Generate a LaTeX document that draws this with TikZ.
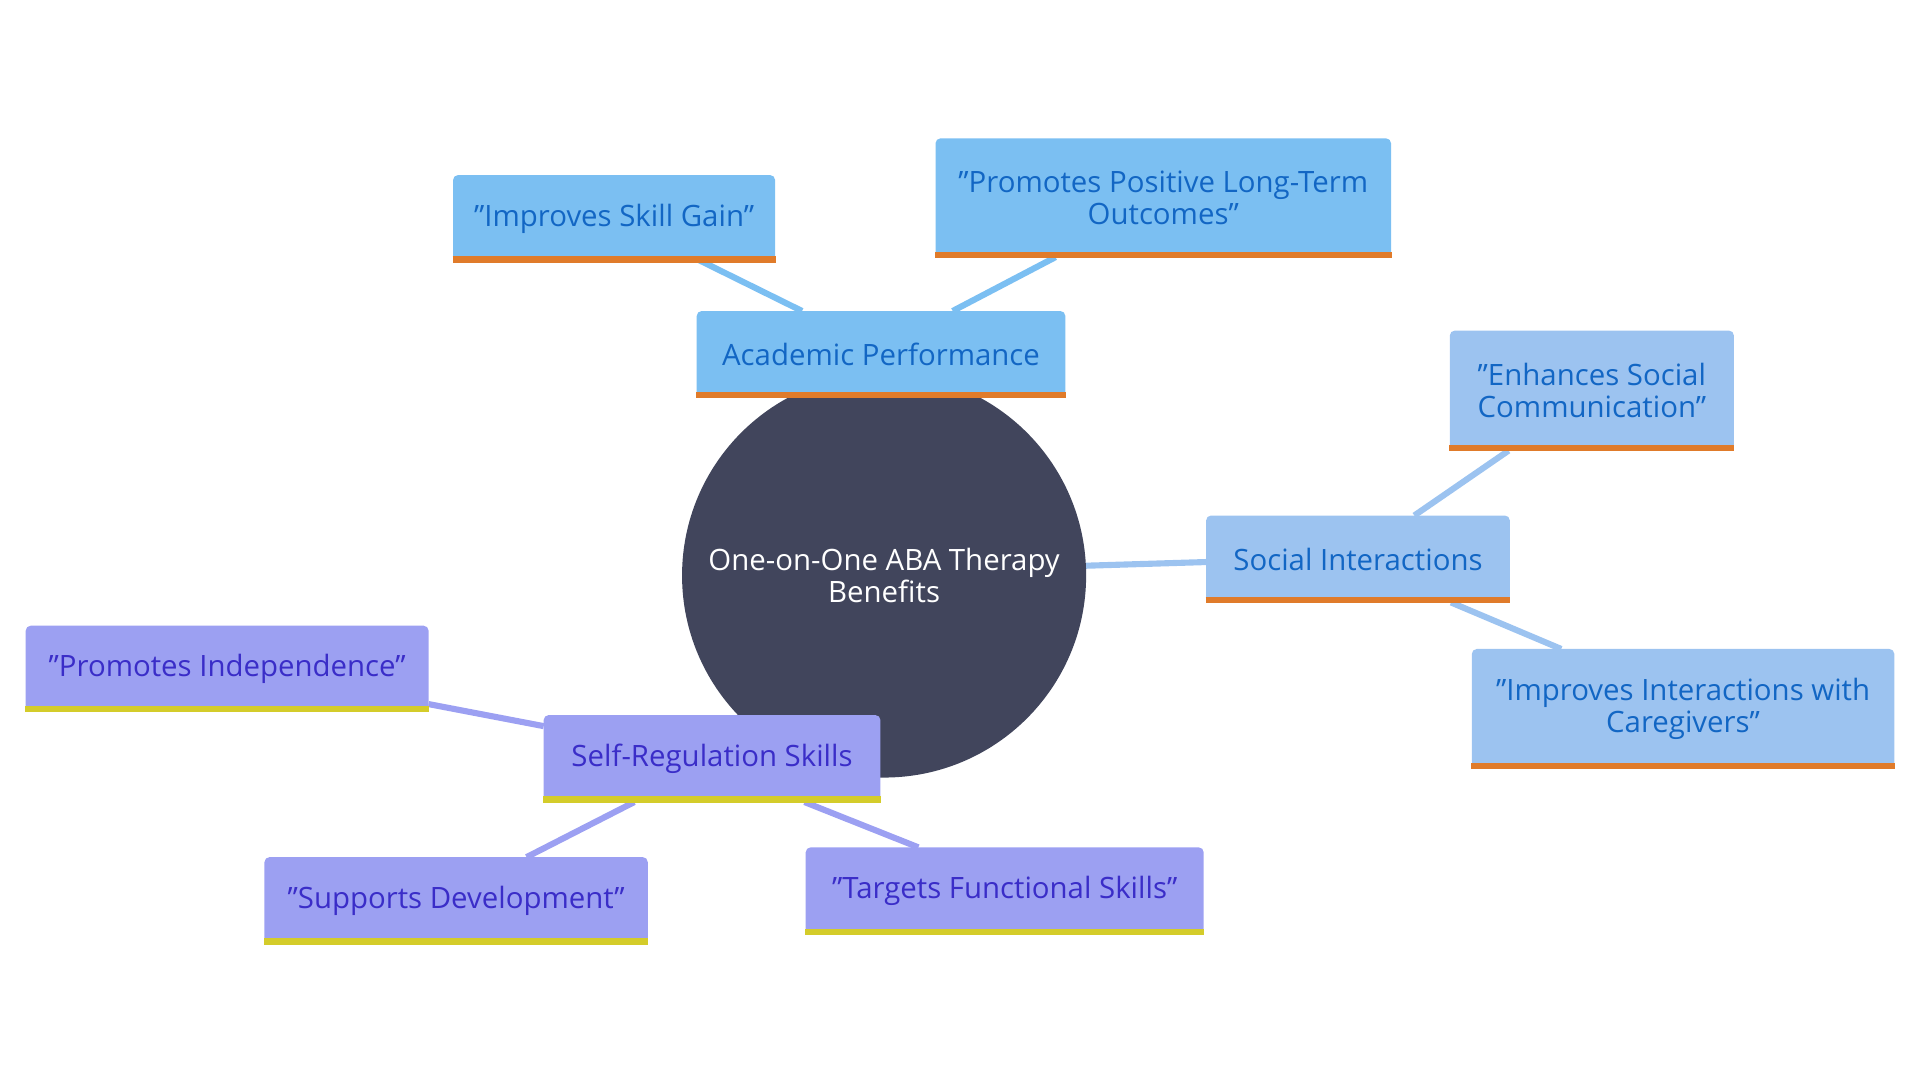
\documentclass[tikz,border=0pt]{standalone}
\usepackage{fontspec}
\setmainfont{Open Sans}
\begin{document}
\begin{tikzpicture}[x=0.5pt,y=-0.5pt,
 every node/.style={font=\fontsize{12}{13}\selectfont},
 blue/.style={rectangle,rounded corners=2pt,fill=cb,text=tb,align=center,inner sep=0pt},
 purp/.style={rectangle,rounded corners=2pt,fill=cp,text=tp,align=center,inner sep=0pt},
 eb/.style={line width=2.5pt,draw=cb},
 ep/.style={line width=2.5pt,draw=cp}]
\definecolor{cb}{HTML}{7BBFF2}
\definecolor{cb2}{HTML}{9CC3F0}
\definecolor{tb}{HTML}{1266C4}
\definecolor{cp}{HTML}{9CA0F2}
\definecolor{tp}{HTML}{3A2DC8}
\definecolor{ob}{HTML}{E07B2A}
\definecolor{yb}{HTML}{D4CC2A}
\definecolor{dk}{HTML}{41455C}
\useasboundingbox (0,0) rectangle (1568,882);
\newcommand{\bx}[7]{% name style x1 y1 x2 y2 text
 \node[#2,minimum width={(#5-#3)*0.5pt},minimum height={(#6-#4)*0.5pt}] (#1) at ({(#3+#5)/2},{(#4+#6)/2}) {#7};}
% edges
\coordinate (cc) at (722,470);
\coordinate (s1) at (887,462);
\coordinate (s2) at (985,459);
\draw[eb,draw=cb2] (s1) -- (s2);
\coordinate (a1) at (655,254); \coordinate (a2) at (570,212);
\coordinate (a3) at (778,254); \coordinate (a4) at (862,210);
\coordinate (b1) at (1155,421); \coordinate (b2) at (1232,368);
\coordinate (b3) at (1185,492); \coordinate (b4) at (1275,530);
\coordinate (p1) at (444,593); \coordinate (p2) at (350,575);
\coordinate (p3) at (518,655); \coordinate (p4) at (430,700);
\coordinate (p5) at (657,655); \coordinate (p6) at (750,692);
\draw[eb] (a1)--(a2); \draw[eb] (a3)--(a4);
\draw[eb,draw=cb2] (b1)--(b2); \draw[eb,draw=cb2] (b3)--(b4);
\draw[ep] (p1)--(p2); \draw[ep] (p3)--(p4); \draw[ep] (p5)--(p6);
% center
\node[circle,fill=dk,minimum size=165pt,text=white,align=center,inner sep=0pt] (c) at (cc) {One-on-One ABA Therapy\\Benefits};
% blue nodes
\bx{ac}{blue}{569}{254}{870}{325}{Academic Performance}
\bx{isg}{blue}{370}{143}{633}{214}{"Improves Skill Gain"}
\bx{ppl}{blue}{764}{113}{1136}{210}{"Promotes Positive Long-Term\\Outcomes"}
\bx{si}{blue,fill=cb2}{985}{421}{1233}{492}{Social Interactions}
\bx{esc}{blue,fill=cb2}{1184}{270}{1416}{368}{"Enhances Social\\Communication"}
\bx{iic}{blue,fill=cb2}{1202}{530}{1547}{628}{"Improves Interactions with\\Caregivers"}
\bx{sr}{purp}{444}{584}{719}{655}{Self-Regulation Skills}
\bx{pi}{purp}{21}{511}{350}{581}{"Promotes Independence"}
\bx{sd}{purp}{216}{700}{529}{771}{"Supports Development"}
\bx{tf}{purp}{658}{692}{983}{763}{"Targets Functional Skills"}
\foreach \n in {ac,isg,ppl,si,esc,iic}{\draw[ob,line width=2.5pt] ([yshift=1.25pt]\n.south west)--([yshift=1.25pt]\n.south east);}
\foreach \n in {sr,pi,sd,tf}{\draw[yb,line width=2.5pt] ([yshift=1.25pt]\n.south west)--([yshift=1.25pt]\n.south east);}
\end{tikzpicture}
\end{document}
